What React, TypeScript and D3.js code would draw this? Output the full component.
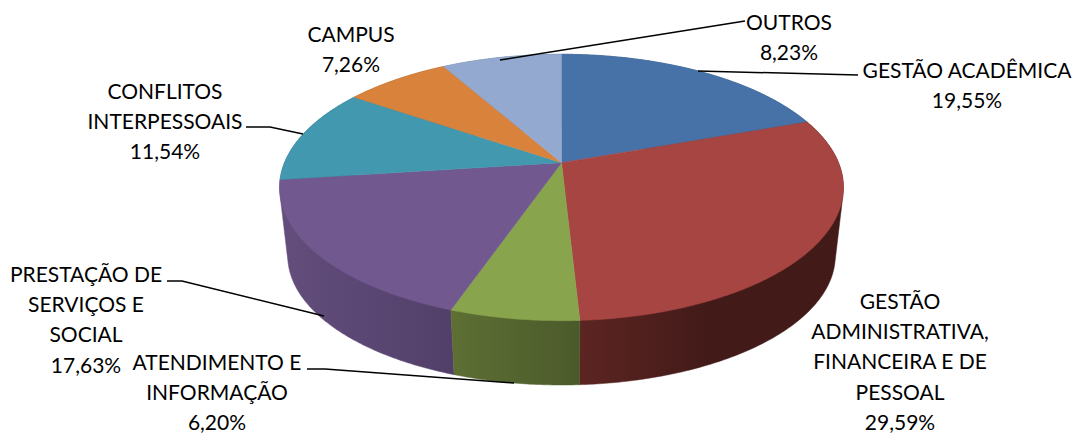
import React from 'react';
import * as d3 from 'd3';

const categories = [
  'GESTÃO ACADÊMICA',
  'GESTÃO ADMINISTRATIVA, FINANCEIRA E DE PESSOAL',
  'ATENDIMENTO E INFORMAÇÃO',
  'PRESTAÇÃO DE SERVIÇOS E SOCIAL',
  'CONFLITOS INTERPESSOAIS',
  'CAMPUS',
  'OUTROS',
];
const values = [19.55, 29.59, 6.2, 17.63, 11.54, 7.26, 8.23];
const topColors = ['#4672A8', '#A64542', '#88A44D', '#71588F', '#4198AF', '#D8823C', '#93A9CF'];
const wallLeft = ['#36567f', '#5c2522', '#5e6f34', '#634e7c', '#2f7184', '#a3622c', '#6f7f9c'];
const wallRight = ['#2c4768', '#421a18', '#4b5a2a', '#523f69', '#2a6273', '#8c5426', '#5f6d87'];

// label text broken in lines, with centre x and first baseline
const labelLines = [
  ['GESTÃO ACADÊMICA', '19,55%'],
  ['GESTÃO', 'ADMINISTRATIVA,', 'FINANCEIRA E DE', 'PESSOAL', '29,59%'],
  ['ATENDIMENTO E', 'INFORMAÇÃO', '6,20%'],
  ['PRESTAÇÃO DE', 'SERVIÇOS E', 'SOCIAL', '17,63%'],
  ['CONFLITOS', 'INTERPESSOAIS', '11,54%'],
  ['CAMPUS', '7,26%'],
  ['OUTROS', '8,23%'],
];
const labelX = [967, 900, 217, 86, 165, 351, 789];
const labelY = [78, 309, 369.5, 282, 99, 42, 30];
const leaders: ([number, number][] | null)[] = [
  [[858, 75], [698, 71]],
  null,
  [[307, 369], [325, 369], [514, 383]],
  [[167, 281], [182, 281], [324, 316]],
  [[246, 127], [270, 127], [303, 134]],
  null,
  [[745, 21], [500, 60]],
];

const cx = 561.5;
const k = 0.186; // perspective strength
const top = { y: 162.7, rx: 277, ry: 128.6 };
const bottom = { y: 231.8, rx: 269, ry: 124.7 };

function project(plane: typeof top, a: number): [number, number] {
  const u = Math.sin(a);
  const v = -Math.cos(a);
  const s = 1 / (1 - k * v);
  return [cx + plane.rx * u * s, plane.y + plane.ry * v * s];
}

function arcPoints(plane: typeof top, a0: number, a1: number) {
  const n = Math.max(2, Math.ceil((a1 - a0) / 0.01));
  return d3.range(n + 1).map((i) => project(plane, a0 + ((a1 - a0) * i) / n));
}

const line = d3.line();

export default function App() {
  const slices = d3.pie<number>().sort(null)(values);
  // walls from back to front, so nearer ones cover the others
  const wallOrder = d3.range(slices.length).sort((a, b) => {
    const mid = (i: number) => (slices[i].startAngle + slices[i].endAngle) / 2;
    return -Math.cos(mid(a)) - -Math.cos(mid(b));
  });

  return (
    <svg
      width={1075}
      height={434}
      style={{ position: 'absolute', left: 0, top: 0, background: '#fff' }}
      fontFamily="Lato"
      fontSize={21}
    >
      <defs>
        {slices.map((d, i) => {
          const pts = [...arcPoints(top, d.startAngle, d.endAngle), ...arcPoints(bottom, d.startAngle, d.endAngle)];
          const [x0, x1] = d3.extent(pts, (p) => p[0]) as [number, number];
          // the red wall reaches its darkest tone soon after the seam
          const x2 = i === 1 ? x0 + 130 : x1;
          return (
            <linearGradient key={i} id={`wall${i}`} gradientUnits="userSpaceOnUse" x1={x0} x2={x2} y1={0} y2={0}>
              <stop offset="0" stopColor={wallLeft[i]} />
              <stop offset="1" stopColor={wallRight[i]} />
            </linearGradient>
          );
        })}
      </defs>

      {wallOrder.map((i) => {
        const d = slices[i];
        // the hull also fills the tangent edge between the two rims
        const hull = d3.polygonHull([
          ...arcPoints(top, d.startAngle, d.endAngle),
          ...arcPoints(bottom, d.startAngle, d.endAngle),
        ]) as [number, number][];
        return <path key={i} d={line(hull) + 'Z'} fill={`url(#wall${i})`} stroke={`url(#wall${i})`} strokeWidth={0.5} />;
      })}

      {slices.map((d, i) => {
        const pts: [number, number][] = [[cx, top.y], ...arcPoints(top, d.startAngle, d.endAngle)];
        return <path key={i} d={line(pts) + 'Z'} fill={topColors[i]} stroke={topColors[i]} strokeWidth={0.5} />;
      })}

      {leaders.map((l, i) =>
        l ? <path key={i} d={line(l) as string} fill="none" stroke="#000" strokeWidth={1.5} /> : null
      )}

      {categories.map((c, i) => (
        <text key={c} textAnchor="middle" fill="#000">
          {labelLines[i].map((t, j) => (
            <tspan key={j} x={labelX[i]} y={labelY[i] + j * 30.2}>
              {t}
            </tspan>
          ))}
        </text>
      ))}
    </svg>
  );
}
